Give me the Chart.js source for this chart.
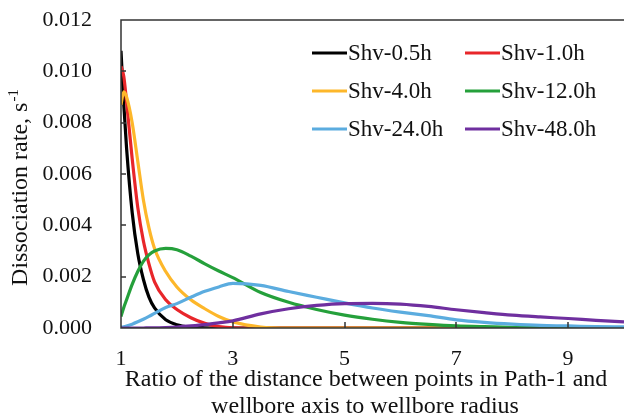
<!DOCTYPE html>
<html>
<head>
<meta charset="utf-8">
<script src="https://cdn.jsdelivr.net/npm/chart.js@4.4.1/dist/chart.umd.min.js"></script>
<style>
  html, body { margin: 0; padding: 0; background: #fff; }
  #wrap { width: 624px; height: 420px; }
</style>
</head>
<body>
<div id="wrap"><canvas id="rateChart" width="624" height="420"></canvas></div>
<script>
// Abstand zur Bohrlochachse / Bohrlochradius
const xValues = [1, 1.05, 1.1, 1.2, 1.3, 1.4, 1.5, 1.6, 1.8, 2.0, 2.25, 2.5, 2.75, 3.0,
                 3.5, 4.0, 4.5, 5.0, 5.5, 6.0, 6.5, 7.0, 7.5, 8.0, 8.5, 9.0, 9.5, 10];

const shv05 = [0.0108, 0.0087, 0.0070, 0.0045, 0.0029, 0.0019, 0.0012, 0.00078, 0.00032, 0.00013,
               0.00004, 0.00001, 0, 0, 0, 0, 0, 0, 0, 0, 0, 0, 0, 0, 0, 0, 0, 0];
const shv10 = [0.0102, 0.0098, 0.0088, 0.0066, 0.0047, 0.0034, 0.0025, 0.0018, 0.0011, 0.00072,
               0.0004, 0.00018, 0.00006, 0.00001, 0, 0, 0, 0, 0, 0, 0, 0, 0, 0, 0, 0, 0, 0];
const shv40 = [0.0087, 0.0092, 0.0090, 0.0080, 0.0065, 0.0050, 0.0039, 0.0031, 0.0022, 0.0016,
               0.0011, 0.00075, 0.00045, 0.00024, 0.00004, 0, 0, 0, 0, 0, 0, 0, 0, 0, 0, 0, 0, 0];
const shv120 = [0.00045, 0.0008, 0.0011, 0.0017, 0.0022, 0.0026, 0.00285, 0.0030, 0.0031, 0.00305,
                0.0028, 0.0025, 0.00222, 0.00196, 0.00138, 0.0010, 0.00072, 0.0005, 0.00034, 0.00022,
                0.00014, 0.00008, 0.00005, 0.00003, 0.00002, 0.00001, 0, 0];
const shv240 = [0.00003, 0.00005, 0.00008, 0.00015, 0.00024, 0.00034, 0.00045, 0.00057, 0.0008, 0.00095,
                0.0012, 0.00143, 0.0016, 0.00174, 0.00166, 0.00142, 0.0012, 0.00098, 0.00078, 0.00062,
                0.00048, 0.00032, 0.00022, 0.00015, 0.0001, 0.00008, 0.00005, 0.00004];
const shv480 = [0, 0, 0, 0, 0, 0, 0.00001, 0.00001, 0.00002, 0.00004,
                0.00008, 0.00013, 0.0002, 0.00028, 0.00055, 0.00075, 0.00088, 0.00095, 0.00096, 0.00093,
                0.00084, 0.00071, 0.0006, 0.0005, 0.00043, 0.00037, 0.0003, 0.00024];

const seriesLabels = ["Shv-0.5h", "Shv-1.0h", "Shv-4.0h", "Shv-12.0h", "Shv-24.0h", "Shv-48.0h"];
const seriesValues = [shv05, shv10, shv40, shv120, shv240, shv480];
const seriesColors = ["#000000", "#e8262a", "#fdb72a", "#25a03b", "#5bacdf", "#6f2f9f"];

const xTicks = [1, 3, 5, 7, 9];
const yTicks = [0, 0.002, 0.004, 0.006, 0.008, 0.010, 0.012];

const SERIF = "'Liberation Serif', 'Times New Roman', serif";

// Rahmen + nach innen zeigende Ticks
const framePlugin = {
    id: "frame",
    afterDatasetsDraw(chart) {
        const { ctx, chartArea: a, scales } = chart;
        ctx.save();
        ctx.strokeStyle = "#333";
        ctx.lineWidth = 1.5;
        ctx.beginPath();
        ctx.moveTo(a.right, a.top);
        ctx.lineTo(a.left, a.top);
        ctx.lineTo(a.left, a.bottom);
        ctx.lineTo(a.right, a.bottom);
        scales.y.ticks.forEach(t => {
            const py = Math.round(scales.y.getPixelForValue(t.value));
            ctx.moveTo(a.left, py);
            ctx.lineTo(a.left + 5, py);
        });
        scales.x.ticks.forEach(t => {
            const px = Math.round(scales.x.getPixelForValue(t.value));
            ctx.moveTo(px, a.bottom);
            ctx.lineTo(px, a.bottom - 6);
        });
        ctx.stroke();
        ctx.restore();
    }
};

// Legende im Diagramm + Achsentitel
const labelsPlugin = {
    id: "labels",
    afterDraw(chart) {
        const ctx = chart.ctx;
        ctx.save();
        ctx.fillStyle = "#111";

        // Legende (2 Spalten, 3 Zeilen)
        const colX = [312, 465];
        const rowY = [53, 91, 129];
        ctx.font = "23px " + SERIF;
        ctx.textBaseline = "middle";
        ctx.textAlign = "left";
        chart.data.datasets.forEach((ds, i) => {
            const x0 = colX[i % 2];
            const y0 = rowY[Math.floor(i / 2)];
            ctx.strokeStyle = ds.borderColor;
            ctx.lineWidth = 3;
            ctx.beginPath();
            ctx.moveTo(x0, y0);
            ctx.lineTo(x0 + 35, y0);
            ctx.stroke();
            ctx.fillText(ds.label, x0 + 36, y0 + 1);
        });

        // x-Achsentitel
        ctx.font = "24px " + SERIF;
        ctx.textAlign = "center";
        ctx.textBaseline = "alphabetic";
        ctx.fillText("Ratio of the distance between points in Path-1 and", 366, 386);
        ctx.fillText("wellbore axis to wellbore radius", 365, 413);

        // y-Achsentitel mit Hochstellung
        const main = "Dissociation rate, s";
        const sup = "-1";
        ctx.font = "24px " + SERIF;
        const w1 = ctx.measureText(main).width;
        ctx.font = "15px " + SERIF;
        const w2 = ctx.measureText(sup).width;
        ctx.translate(27, 188);
        ctx.rotate(-Math.PI / 2);
        ctx.textAlign = "left";
        const start = -(w1 + w2) / 2;
        ctx.font = "24px " + SERIF;
        ctx.fillText(main, start, 0);
        ctx.font = "15px " + SERIF;
        ctx.fillText(sup, start + w1 + 1, -9);
        ctx.restore();
    }
};

const ctx = document.getElementById("rateChart").getContext("2d");
new Chart(ctx, {
    type: "line",
    data: {
        datasets: seriesValues.map((vals, i) => ({
            label: seriesLabels[i],
            data: vals.map((v, j) => ({ x: xValues[j], y: v })),
            borderColor: seriesColors[i],
            borderWidth: 3.2,
            pointRadius: 0,
            fill: false,
            cubicInterpolationMode: "monotone",
            order: seriesValues.length - i
        }))
    },
    options: {
        responsive: false,
        animation: false,
        devicePixelRatio: 1,
        layout: { padding: { top: 20, right: 0, left: 0, bottom: 0 } },
        plugins: {
            legend: { display: false },
            tooltip: { enabled: false }
        },
        scales: {
            x: {
                type: "linear",
                min: 1,
                max: 10,
                afterBuildTicks: s => { s.ticks = xTicks.map(v => ({ value: v })); },
                afterFit: s => { s.height = 92; s.paddingLeft = 0; s.paddingRight = 0; },
                grid: { display: false, drawTicks: false },
                border: { display: false },
                ticks: {
                    color: "#111",
                    padding: 18,
                    maxRotation: 0,
                    autoSkip: false,
                    font: { family: SERIF, size: 22 }
                }
            },
            y: {
                min: 0,
                max: 0.012,
                afterBuildTicks: s => { s.ticks = yTicks.map(v => ({ value: v })); },
                afterFit: s => { s.width = 121; s.paddingTop = 0; s.paddingBottom = 0; },
                grid: { display: false, drawTicks: false },
                border: { display: false },
                ticks: {
                    color: "#111",
                    padding: 29,
                    callback: v => Number(v).toFixed(3),
                    font: { family: SERIF, size: 22 }
                }
            }
        }
    },
    plugins: [framePlugin, labelsPlugin]
});
</script>
</body>
</html>
